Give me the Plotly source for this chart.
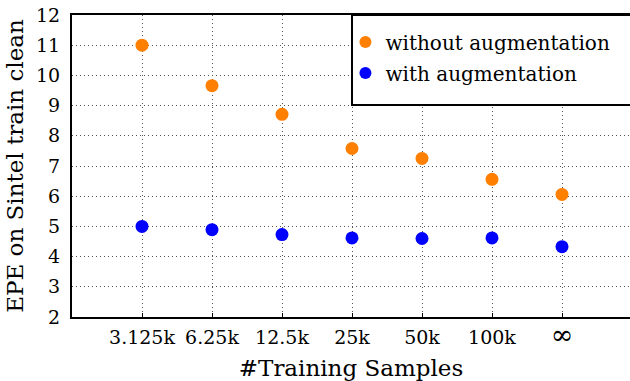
import plotly.graph_objects as go

# Training set sizes and end-point error on Sintel train clean
categories = ["3.125k", "6.25k", "12.5k", "25k", "50k", "100k", "∞"]
epe_without_aug = [11.0, 9.66, 8.71, 7.58, 7.25, 6.56, 6.06]
epe_with_aug = [5.0, 4.89, 4.73, 4.62, 4.60, 4.62, 4.33]
y_ticks = [2, 3, 4, 5, 6, 7, 8, 9, 10, 11, 12]

positions = list(range(1, len(categories) + 1))
font_family = "DejaVu Serif"
# the infinity glyph is drawn a little larger than the numeric labels
tick_text = [c if c != "∞" else "<span style='font-size:27px'>∞</span>" for c in categories]

fig = go.Figure()
fig.add_trace(go.Scatter(
    x=positions, y=epe_without_aug, mode="markers",
    name="without augmentation", legendgroup="a",
    marker=dict(color="#FF7F00", size=13, line=dict(width=0)),
))
fig.add_trace(go.Scatter(
    x=positions, y=epe_with_aug, mode="markers",
    name="with augmentation", legendgroup="b",
    marker=dict(color="#0000FF", size=13, line=dict(width=0)),
))

grid = dict(showgrid=True, gridcolor="#555555", gridwidth=1, griddash="1px,3px")

fig.update_layout(
    width=630, height=381,
    margin=dict(l=72, r=0, t=15, b=64),
    plot_bgcolor="white", paper_bgcolor="white",
    font=dict(family=font_family, size=19, color="black"),
    showlegend=True,
    legend=dict(
        x=0.49, y=0.975, xanchor="left", yanchor="top",
        bgcolor="rgba(0,0,0,0)", borderwidth=0,
        font=dict(family=font_family, size=20),
        itemsizing="constant", traceorder="grouped", tracegroupgap=2,
    ),
    xaxis=dict(
        range=[0, 558 / 70], tickmode="array", tickvals=positions,
        ticktext=tick_text, showline=True, linecolor="black", linewidth=2,
        mirror=True, ticks="inside", ticklen=4, tickcolor="black",
        zeroline=False, ticklabelstandoff=2,
        title=dict(text="#Training Samples", standoff=12), **grid,
    ),
    yaxis=dict(
        range=[2, 12], tickmode="array", tickvals=y_ticks,
        showline=True, linecolor="black", linewidth=2, ticks="",
        zeroline=False, ticklabelstandoff=6,
        title=dict(text="EPE on Sintel train clean", standoff=6), **grid,
    ),
    shapes=[dict(
        type="rect", xref="paper", yref="paper",
        x0=(352 - 72) / 558, x1=1.02, y0=(317 - 105) / 302, y1=1.0,
        line=dict(color="black", width=2), fillcolor="white", layer="above",
    )],
)

fig.write_html("out.html")
